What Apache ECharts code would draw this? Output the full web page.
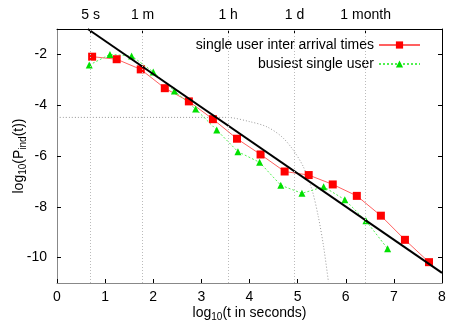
<!DOCTYPE html>
<html lang="en">
<head>
    <meta charset="UTF-8">
    <title>inter arrival times</title>
    <script src="https://cdn.jsdelivr.net/npm/echarts@6/dist/echarts.min.js"></script>
</head>
<body style="margin:0;background:#fff">
<div id="main" style="width: 467px;height:327px;"></div>
<script>
    // 读图得到的数据 (log10 坐标)
    var singleX = [0.73, 1.24, 1.74, 2.24, 2.74, 3.24, 3.74, 4.23, 4.73, 5.23, 5.73, 6.23, 6.73, 7.23, 7.73];
    var singleY = [-2.09, -2.19, -2.59, -3.33, -3.85, -4.55, -5.32, -5.94, -6.61, -6.75, -7.12, -7.57, -8.35, -9.30, -10.18];

    var busyX = [0.67, 1.10, 1.55, 2.00, 2.44, 2.88, 3.32, 3.76, 4.21, 4.65, 5.09, 5.54, 5.98, 6.42, 6.87];
    var busyY = [-2.42, -2.00, -2.06, -2.69, -3.44, -4.15, -4.98, -5.83, -6.25, -7.15, -7.47, -7.21, -7.72, -8.55, -9.65];

    // 拟合直线两端
    var fitX = [0.64, 8];
    var fitY = [-1, -10.6];

    // 灰色点线曲线
    var curveX = [0, 3.53, 4.01, 4.36, 4.67, 4.91, 5.12, 5.30, 5.43, 5.54, 5.64];
    var curveY = [-4.48, -4.48, -4.65, -4.85, -5.24, -5.77, -6.43, -7.34, -8.39, -9.57, -10.95];

    // 上方刻度 (5 s, 1 m, 1 h, 1 d, 1 month)
    var topTicks = [0.699, 1.778, 3.556, 4.936, 6.413];
    var topLabels = ['5 s', '1 m', '1 h', '1 d', '1 month'];
    var yTicks = [-2, -4, -6, -8, -10];

    function pairs(xs, ys) {
        var out = [];
        for (var i = 0; i < xs.length; i++) {
            out.push([xs[i], ys[i]]);
        }
        return out;
    }

    var font = 'Liberation Sans';
    var myChart = echarts.init(document.getElementById('main'));

    option = {
        animation: false,
        textStyle: {fontFamily: font},
        grid: {left: 57, right: 25, top: 29, bottom: 44, containLabel: false, outerBoundsMode: 'none'},
        legend: {
            orient: 'vertical',
            right: 41,
            top: 33,
            align: 'right',
            itemWidth: 41,
            itemHeight: 9,
            itemGap: 5,
            textStyle: {fontSize: 14, color: '#000', fontFamily: font},
            data: ['single user inter arrival times', 'busiest single user']
        },
        xAxis: [
            {
                type: 'value', min: 0, max: 8, interval: 1,
                name: '{a|log}{s|10}{a|(t in seconds)}',
                nameLocation: 'middle', nameGap: 22, nameMoveOverlap: false,
                nameTextStyle: {
                    rich: {
                        a: {fontSize: 14, color: '#000', fontFamily: font},
                        s: {fontSize: 10, color: '#000', fontFamily: font, padding: [7, 0, 0, 0]}
                    }
                },
                axisLine: {show: true, onZero: false, lineStyle: {color: '#888'}},
                axisTick: {inside: true, length: 4, lineStyle: {color: '#000'}},
                axisLabel: {fontSize: 14, color: '#000', margin: 7},
                splitLine: {show: false}
            },
            {
                type: 'value', min: 0, max: 8, position: 'top',
                axisLine: {show: true, onZero: false, lineStyle: {color: '#000'}},
                axisTick: {inside: true, length: 4, customValues: topTicks, lineStyle: {color: '#000'}},
                axisLabel: {
                    fontSize: 14, color: '#000', margin: 7,
                    customValues: topTicks,
                    formatter: function (v) {
                        for (var i = 0; i < topTicks.length; i++) {
                            if (Math.abs(topTicks[i] - v) < 1e-6) return topLabels[i];
                        }
                        return '';
                    }
                },
                splitLine: {show: false}
            }
        ],
        yAxis: [
            {
                type: 'value', min: -11, max: -1,
                name: '{a|log}{s|10}{a|(P}{s|ind}{a|(t))}',
                nameLocation: 'middle', nameGap: 29, nameMoveOverlap: false,
                nameTextStyle: {
                    rich: {
                        a: {fontSize: 14, color: '#000', fontFamily: font},
                        s: {fontSize: 10, color: '#000', fontFamily: font, padding: [7, 0, 0, 0]}
                    }
                },
                axisLine: {show: true, onZero: false, lineStyle: {color: '#888'}},
                axisTick: {inside: true, length: 4, customValues: yTicks, lineStyle: {color: '#000'}},
                axisLabel: {fontSize: 14, color: '#000', margin: 10, customValues: yTicks},
                splitLine: {show: false}
            },
            {
                type: 'value', min: -11, max: -1, position: 'right',
                axisLine: {show: true, onZero: false, lineStyle: {color: '#000'}},
                axisTick: {inside: true, length: 4, customValues: yTicks, lineStyle: {color: '#000'}},
                axisLabel: {show: false},
                splitLine: {show: false}
            }
        ],
        series: [
            {
                name: 'curve',
                type: 'line',
                smooth: 0.3,
                symbol: 'none',
                silent: true,
                lineStyle: {color: '#999', width: 1, type: [1, 2]},
                data: pairs(curveX, curveY),
                markLine: {
                    silent: true,
                    symbol: 'none',
                    label: {show: false},
                    lineStyle: {color: '#bbb', width: 1, type: [1, 2]},
                    data: topTicks.map(function (v) { return {xAxis: v}; })
                },
                z: 1
            },
            {
                name: 'single user inter arrival times',
                type: 'line',
                symbol: 'rect',
                symbolSize: 8,
                itemStyle: {color: '#ff0000'},
                lineStyle: {color: '#ff6060', width: 1},
                data: pairs(singleX, singleY),
                z: 3
            },
            {
                name: 'busiest single user',
                type: 'line',
                symbol: 'triangle',
                symbolSize: 7,
                itemStyle: {color: '#00e000'},
                lineStyle: {color: '#50f050', width: 1, type: [2, 2]},
                data: pairs(busyX, busyY),
                z: 3
            },
            {
                name: 'fit',
                type: 'line',
                symbol: 'none',
                lineStyle: {color: '#000', width: 2},
                data: pairs(fitX, fitY),
                z: 4
            }
        ]
    };

    myChart.setOption(option);
</script>
</body>
</html>
